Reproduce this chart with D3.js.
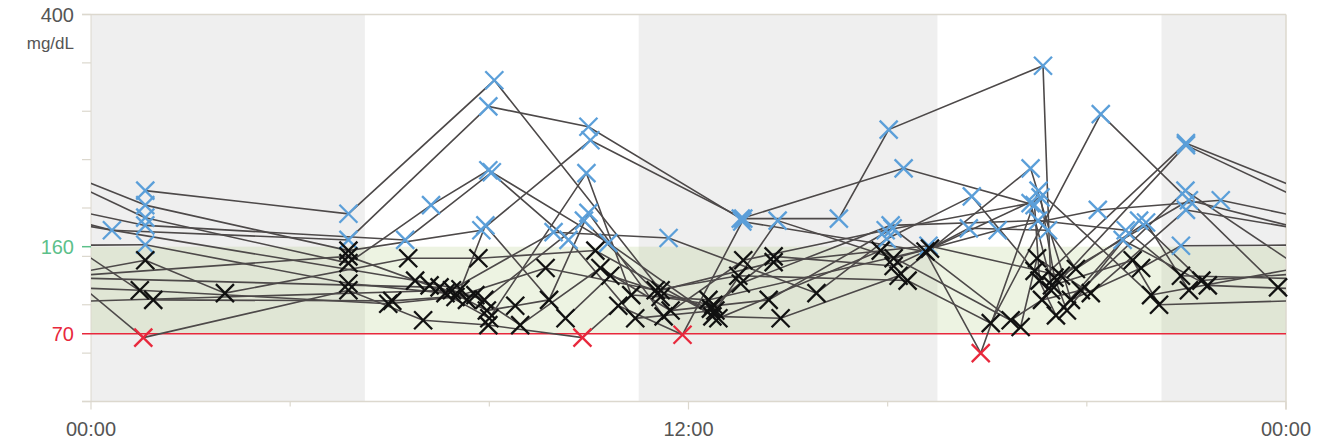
<!DOCTYPE html>
<html>
<head>
<meta charset="utf-8">
<script src="https://cdn.jsdelivr.net/npm/d3@7"></script>
<style>
  body { margin: 0; background: #fff; }
  svg { display: block; font-family: "Liberation Sans", Arial, sans-serif; }
</style>
</head>
<body>
<div id="chart"></div>
<script>
// readings per day: [hour of day, mg/dL]
const day01 = [[1.09,218],[5.17,194],[8.10,332],[11.44,115],[13.71,144],[16.82,161],[19.48,130],[22.05,208]]
const day02 = [[0.42,177],[5.17,167],[7.98,305],[9.99,284],[13.05,189],[16.32,241],[18.95,203],[19.05,125],[21.99,267]]
const day03 = [[1.09,203],[5.17,156],[7.84,177],[10.03,270],[13.10,189],[15.02,189],[16.02,281],[19.12,347],[19.28,115],[21.99,265]]
const day04 = [[1.09,190],[5.17,143],[6.83,203],[7.98,239],[9.59,167],[10.93,86],[12.54,94],[13.79,187],[16.12,148],[18.21,177],[20.22,198],[22.69,208]]
const day05 = [[1.09,182],[6.31,167],[8.05,237],[10.39,164],[12.48,88],[13.85,86],[16.22,130],[18.87,241],[19.68,105],[21.09,138],[21.89,161]]
const day06 = [[1.09,162],[5.17,122],[7.12,112],[9.29,175],[11.60,169],[14.57,112],[15.98,168],[17.69,212],[18.95,135],[19.38,89],[20.72,167],[22.43,120]]
const day07 = [[0.98,115],[5.97,101],[7.32,108],[9.13,138],[11.34,115],[13.00,130],[16.40,125],[18.07,81],[20.28,297],[23.84,118]]
const day08 = [[1.05,66],[5.17,115],[6.67,84],[7.98,79],[9.87,66],[10.59,99],[11.88,69],[13.08,186],[16.76,155],[17.87,50],[19.03,218],[21.29,110]]
const day09 = [[1.09,146],[2.69,112],[6.37,148],[7.78,148],[10.13,156],[12.60,86],[15.86,156],[18.47,84],[19.10,105],[19.88,115],[21.98,218]]
const day10 = [[1.25,105],[6.05,104],[7.72,110],[8.62,79],[10.23,138],[11.64,94],[13.61,105],[16.10,179],[18.67,77],[19.00,148],[20.08,112],[21.99,198]]
const day11 = [[6.51,125],[7.42,116],[7.92,182],[9.53,86],[10.43,130],[12.45,96],[13.05,122],[16.06,182],[19.02,187],[20.78,177],[21.89,130]]
const day12 = [[7.00,118],[7.55,105],[7.95,94],[8.52,99],[9.20,105],[9.99,195],[11.50,88],[13.10,146],[15.96,177],[18.87,205],[19.30,120],[20.92,146],[21.45,100]]
const day13 = [[7.25,115],[7.90,105],[9.90,187],[11.44,108],[12.50,100],[13.71,150],[16.12,140],[19.07,211],[19.35,128],[19.60,94],[21.05,187],[22.30,125]]
const day14 = [[5.17,150],[6.80,120],[8.00,86],[9.95,236],[10.85,110],[12.40,105],[16.85,158],[17.63,179],[19.22,177],[19.78,137],[21.19,185],[22.05,115]]

const days = [day01, day02, day03, day04, day05, day06, day07, day08, day09, day10, day11, day12, day13, day14]

// shaded (night / evening) time blocks, hours
const greyBands = [[0, 5.5], [11, 17], [21.5, 24]]
const targetLow = 70
const targetHigh = 160
const yTicks = [0, 50, 100, 150, 200, 250, 300, 350, 400]
const xTicks = [0, 4, 8, 12, 16, 20, 24]
const xLabels = {0: '00:00', 12: '12:00', 24: '00:00'}

const width = 1322, height = 444
const plotLeft = 91, plotRight = 1286, plotTop = 14.5, plotBottom = 401.5

const svg = d3.select('#chart').append('svg')
  .attr('width', width)
  .attr('height', height)

const x = d3.scaleLinear().domain([0, 24]).range([plotLeft, plotRight])
const y = d3.scaleLinear().domain([0, 400]).range([plotBottom, plotTop])

svg.append('defs').append('clipPath').attr('id', 'plot')
  .append('rect')
  .attr('x', plotLeft).attr('y', plotTop)
  .attr('width', plotRight - plotLeft).attr('height', plotBottom - plotTop)

// background bands
svg.selectAll('rect.band')
  .data(greyBands)
  .enter()
  .append('rect')
  .attr('class', 'band')
  .attr('x', d => x(d[0]))
  .attr('y', plotTop)
  .attr('width', d => x(d[1]) - x(d[0]))
  .attr('height', plotBottom - plotTop)
  .attr('fill', '#efefef')

// target range
svg.append('rect')
  .attr('x', plotLeft)
  .attr('y', y(targetHigh))
  .attr('width', plotRight - plotLeft)
  .attr('height', y(targetLow) - y(targetHigh))
  .attr('fill', 'rgba(160,190,100,0.19)')

// frame
const frameColor = '#dcd8ce'
svg.append('line').attr('x1', plotLeft - 9).attr('x2', plotRight).attr('y1', plotTop).attr('y2', plotTop)
  .attr('stroke', frameColor).attr('stroke-width', 1.5)
svg.append('line').attr('x1', plotLeft - 9).attr('x2', plotRight).attr('y1', plotBottom).attr('y2', plotBottom)
  .attr('stroke', frameColor).attr('stroke-width', 1.5)
svg.append('line').attr('x1', plotLeft).attr('x2', plotLeft).attr('y1', plotTop).attr('y2', plotBottom)
  .attr('stroke', frameColor).attr('stroke-width', 1)
svg.append('line').attr('x1', plotRight).attr('x2', plotRight).attr('y1', plotTop).attr('y2', plotBottom + 8)
  .attr('stroke', frameColor).attr('stroke-width', 1.5)

// y ticks
svg.selectAll('line.ytick')
  .data(yTicks)
  .enter()
  .append('line')
  .attr('x1', plotLeft - 9).attr('x2', plotLeft)
  .attr('y1', d => y(d)).attr('y2', d => y(d))
  .attr('stroke', frameColor).attr('stroke-width', 1.2)

svg.append('line')
  .attr('x1', plotLeft - 9).attr('x2', plotLeft)
  .attr('y1', y(targetHigh)).attr('y2', y(targetHigh))
  .attr('stroke', '#5cc08a').attr('stroke-width', 1.5)

// x ticks
svg.selectAll('line.xtick')
  .data(xTicks)
  .enter()
  .append('line')
  .attr('x1', d => x(d)).attr('x2', d => x(d))
  .attr('y1', plotBottom)
  .attr('y2', d => (d % 12 === 0) ? plotBottom + 8 : plotBottom + 5)
  .attr('stroke', frameColor).attr('stroke-width', 1.2)

// low line
svg.append('line')
  .attr('x1', plotLeft - 9).attr('x2', plotRight)
  .attr('y1', y(targetLow)).attr('y2', y(targetLow))
  .attr('stroke', '#e8283c').attr('stroke-width', 1.5)

// labels
svg.append('text').attr('x', 74).attr('y', y(400) + 7)
  .attr('text-anchor', 'end').attr('font-size', 20).attr('fill', '#555').text('400')
svg.append('text').attr('x', 74).attr('y', 49)
  .attr('text-anchor', 'end').attr('font-size', 17).attr('fill', '#555').text('mg/dL')
svg.append('text').attr('x', 74).attr('y', y(targetHigh) + 7)
  .attr('text-anchor', 'end').attr('font-size', 20).attr('fill', '#5cc08a').text('160')
svg.append('text').attr('x', 74).attr('y', y(targetLow) + 7)
  .attr('text-anchor', 'end').attr('font-size', 20).attr('fill', '#e8283c').text('70')

svg.selectAll('text.xlabel')
  .data(xTicks.filter(d => xLabels[d]))
  .enter()
  .append('text')
  .attr('x', d => x(d))
  .attr('y', 436)
  .attr('text-anchor', 'middle')
  .attr('font-size', 20)
  .attr('fill', '#555')
  .text(d => xLabels[d])

// connecting lines
const plot = svg.append('g').attr('clip-path', 'url(#plot)')
const line = d3.line().x(d => x(d[0])).y(d => y(d[1]))

let segments = []
days.forEach((day, i) => {
  segments.push(day)
  if (i < days.length - 1) {
    let last = day[day.length - 1]
    let first = days[i + 1][0]
    // overnight: draw once on each side of midnight
    segments.push([last, [first[0] + 24, first[1]]])
    segments.push([[last[0] - 24, last[1]], first])
  }
})

plot.selectAll('path.trace')
  .data(segments)
  .enter()
  .append('path')
  .attr('class', 'trace')
  .attr('d', line)
  .attr('fill', 'none')
  .attr('stroke', '#4d4949')
  .attr('stroke-width', 1.6)

// markers
const readings = days.flat()
const colorOf = v => v < targetLow ? '#e8283c' : (v > targetHigh ? '#5b9fd9' : '#111')
const r = 9

let marks = svg.append('g').selectAll('g.mark')
  .data(readings)
  .enter()
  .append('g')
  .attr('class', 'mark')
  .attr('transform', d => `translate(${x(d[0])},${y(d[1])})`)
  .attr('stroke', d => colorOf(d[1]))
  .attr('stroke-width', 2.3)

marks.append('line').attr('x1', -r).attr('y1', -r).attr('x2', r).attr('y2', r)
marks.append('line').attr('x1', -r).attr('y1', r).attr('x2', r).attr('y2', -r)
</script>
</body>
</html>
